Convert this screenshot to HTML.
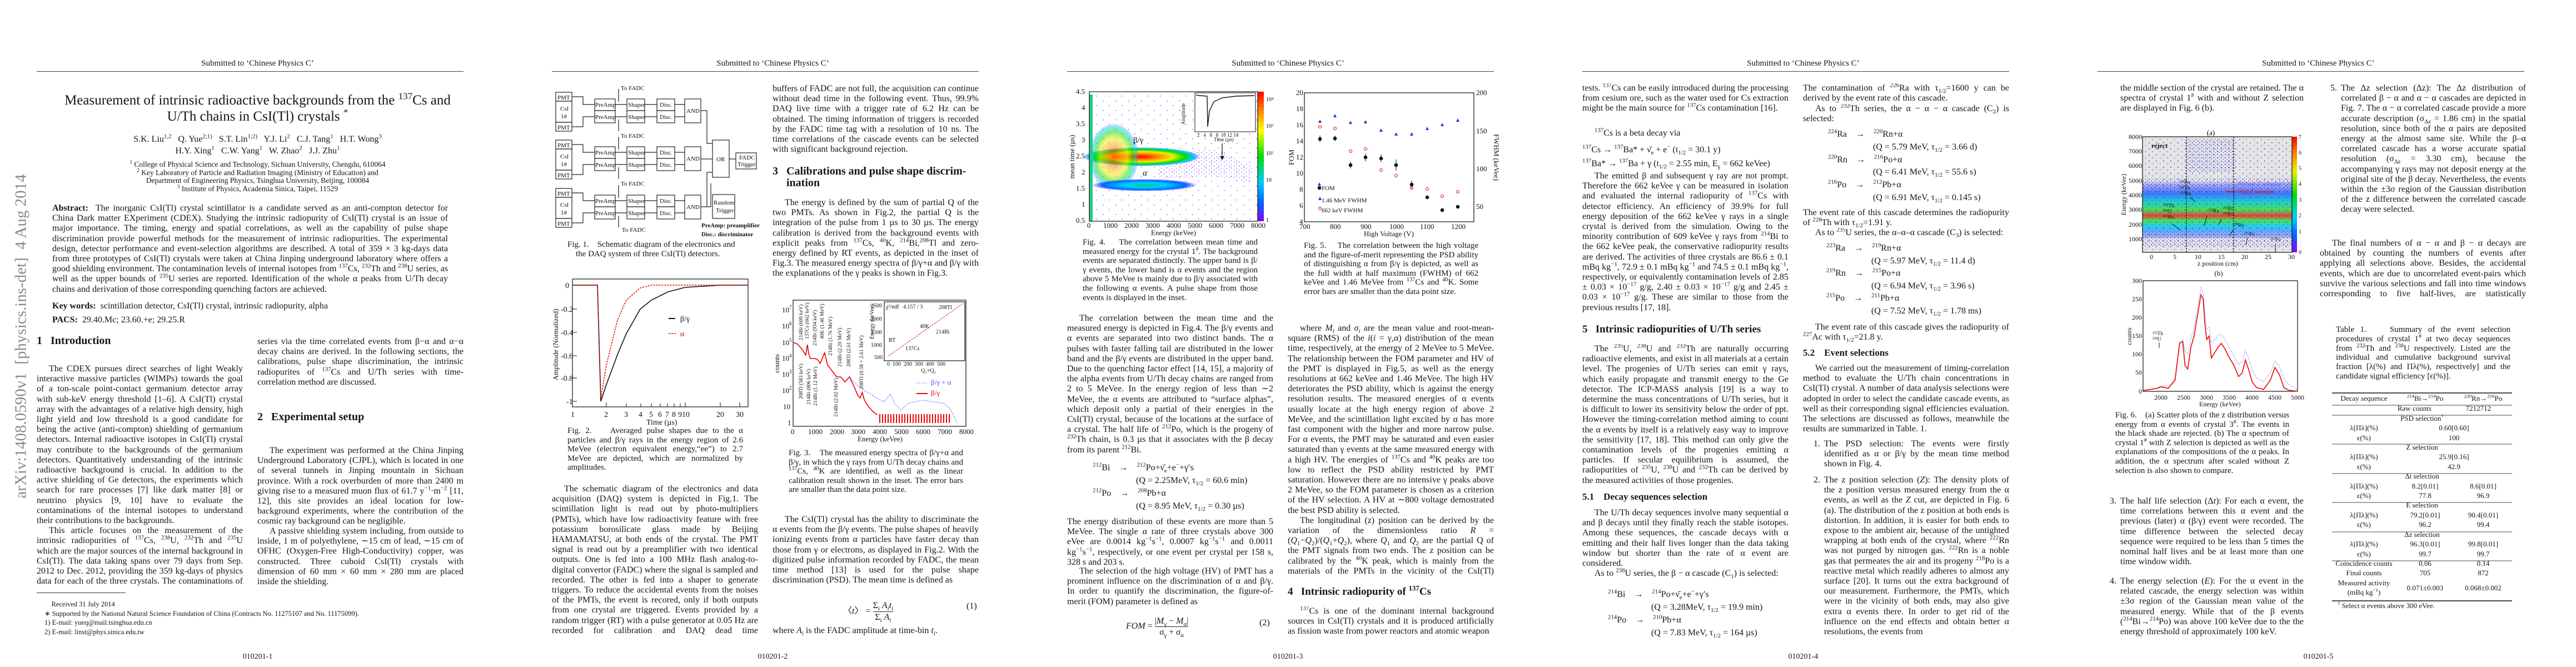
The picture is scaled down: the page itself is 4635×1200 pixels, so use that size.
<!DOCTYPE html>
<html><head><meta charset="utf-8">
<style>
*{margin:0;padding:0;box-sizing:border-box}
body{width:4635px;height:1200px;background:#fff;position:relative;overflow:hidden;font-family:"Liberation Serif",serif;color:#151515}
.pg{position:absolute;top:0;width:927px;height:1200px;overflow:hidden}
.t{position:absolute;font-size:16px;line-height:18.2px;text-align:justify;overflow:hidden}
.L{left:66px;width:371px}
.R{left:463px;width:371px}
.i{text-indent:22px}
sup,sub{font-size:0.68em;line-height:0}
.hd{position:absolute;left:0;width:927px;top:106px;text-align:center;font-size:15px}
.rule{position:absolute;left:66px;width:768px;top:128px;height:1px;background:#444}
.pn{position:absolute;left:0;width:927px;top:1174px;text-align:center;font-size:14px}
.h{position:absolute;font-weight:bold;font-size:20px;line-height:21px}
.h2{position:absolute;font-weight:bold;font-size:17px}
.cap{position:absolute;font-size:15px;line-height:16.6px;text-align:justify;overflow:hidden}
.c{position:absolute;font-size:16px;white-space:nowrap}
svg{position:absolute;left:0;top:0}
svg text{font-family:"Liberation Serif",serif}
</style></head><body>

<!-- PAGE 1 -->
<div class="pg" style="left:0">
<div class="hd">Submitted to ‘Chinese Physics C’</div><div class="rule"></div>
<div style="position:absolute;left:18px;top:300px;width:40px;height:610px;">
<div style="position:absolute;left:20px;top:305px;transform:translate(-50%,-50%) rotate(-90deg);white-space:nowrap;font-size:29px;color:#8a8a8a;font-family:'Liberation Serif',serif">arXiv:1408.0590v1&nbsp; [physics.ins-det]&nbsp; 4 Aug 2014</div></div>
<div style="position:absolute;left:40px;width:847px;top:166px;text-align:center;font-size:25px;line-height:29px">Measurement of intrinsic radioactive backgrounds from the <sup>137</sup>Cs and<br>U/Th chains in CsI(Tl) crystals <sup>*</sup></div>
<div style="position:absolute;left:0;width:927px;top:240px;text-align:center;font-size:16px;line-height:21px">S.K. Liu<sup>1,2</sup>&nbsp;&nbsp; Q. Yue<sup>2;1)</sup>&nbsp;&nbsp; S.T. Lin<sup>1;2)</sup>&nbsp;&nbsp; Y.J. Li<sup>2</sup>&nbsp;&nbsp; C.J. Tang<sup>1</sup>&nbsp;&nbsp; H.T. Wong<sup>3</sup><br>H.Y. Xing<sup>1</sup>&nbsp;&nbsp; C.W. Yang<sup>1</sup>&nbsp;&nbsp; W. Zhao<sup>2</sup>&nbsp;&nbsp; J.J. Zhu<sup>1</sup></div>
<div style="position:absolute;left:0;width:927px;top:289px;text-align:center;font-size:13.5px;line-height:14.5px"><sup>1</sup> College of Physical Science and Technology, Sichuan University, Chengdu, 610064<br><sup>2</sup> Key Laboratory of Particle and Radiation Imaging (Ministry of Education) and<br>Department of Engineering Physics, Tsinghua University, Beijing, 100084<br><sup>3</sup> Institute of Physics, Academia Sinica, Taipei, 11529</div>
<div class="t" style="left:94px;width:712px;top:366px;height:166px"><b>Abstract:</b>&nbsp; The inorganic CsI(Tl) crystal scintillator is a candidate served as an anti-compton detector for China Dark matter EXperiment (CDEX). Studying the intrinsic radiopurity of CsI(Tl) crystal is an issue of major importance. The timing, energy and spatial correlations, as well as the capability of pulse shape discrimination provide powerful methods for the measurement of intrinsic radiopurities. The experimental design, detector performance and event-selection algorithms are described. A total of 359 × 3 kg-days data from three prototypes of CsI(Tl) crystals were taken at China Jinping underground laboratory where offers a good shielding environment. The contamination levels of internal isotopes from <sup>137</sup>Cs, <sup>232</sup>Th and <sup>238</sup>U series, as well as the upper bounds of <sup>235</sup>U series are reported. Identification of the whole α peaks from U/Th decay chains and derivation of those corresponding quenching factors are achieved.</div>
<div class="c" style="left:94px;top:542px"><b>Key words:</b>&nbsp; scintillation detector, CsI(Tl) crystal, intrinsic radiopurity, alpha</div>
<div class="c" style="left:94px;top:567px"><b>PACS:</b>&nbsp; 29.40.Mc; 23.60.+e; 29.25.R</div>
<div class="h" style="left:66px;top:603px">1&nbsp;&nbsp; Introduction</div>
<div class="t L i" style="top:655px;height:402px">The CDEX pursues direct searches of light Weakly interactive massive particles (WIMPs) towards the goal of a ton-scale point-contact germanium detector array with sub-keV energy threshold [1–6]. A CsI(Tl) crystal array with the advantages of a relative high density, high light yield and low threshold is a good candidate for being the active (anti-compton) shielding of germanium detectors. Internal radioactive isotopes in CsI(Tl) crystal may contribute to the backgrounds of the germanium detectors. Quantitatively understanding of the intrinsic radioactive background is crucial. In addition to the active shielding of Ge detectors, the experiments which search for rare processes [7] like dark matter [8] or neutrino physics [9, 10] have to evaluate the contaminations of the internal isotopes to understand their contributions to the backgrounds.<br><span style="padding-left:22px"></span>This article focuses on the measurement of the intrinsic radiopurities of <sup>137</sup>Cs, <sup>238</sup>U, <sup>232</sup>Th and <sup>235</sup>U which are the major sources of the internal background in CsI(Tl). The data taking spans over 79 days from Sep. 2012 to Dec. 2012, providing the 359 kg-days of physics data for each of the three crystals. The contaminations of U/Th</div>
<div class="t R" style="top:606px;height:92px">series via the time correlated events from β−α and α−α decay chains are derived. In the following sections, the calibrations, pulse shape discrimination, the intrinsic radiopurites of <sup>137</sup>Cs and U/Th series with time-correlation method are discussed.</div>
<div class="h" style="left:463px;top:740px">2&nbsp;&nbsp; Experimental setup</div>
<div class="t R i" style="top:802px;height:146px">The experiment was performed at the China Jinping Underground Laboratory (CJPL), which is located in one of several tunnels in Jinping mountain in Sichuan province. With a rock overburden of more than 2400 m giving rise to a measured muon flux of 61.7 y<sup>−1</sup>·m<sup>−2</sup> [11, 12], this site provides an ideal location for low-background experiments, where the contribution of the cosmic ray background can be negligible.</div>
<div class="t R i" style="top:947px;height:110px">A passive shielding system including, from outside to inside, 1 m of polyethylene, ∼15 cm of lead, ∼15 cm of OFHC (Oxygen-Free High-Conductivity) copper, was constructed. Three cuboid CsI(Tl) crystals with dimension of 60 mm × 60 mm × 280 mm are placed inside the shielding.</div>
<div style="position:absolute;left:66px;top:1066px;width:160px;height:1px;background:#333"></div>
<div style="position:absolute;left:80px;top:1079px;font-size:12.5px;line-height:16.5px">&nbsp;&nbsp;&nbsp;&nbsp;Received 31 July 2014<br>∗ Supported by the National Natural Science Foundation of China (Contracts No. 11275107 and No. 11175099).<br>1) E-mail: yueq@mail.tsinghua.edu.cn<br>2) E-mail: linst@phys.sinica.edu.tw</div>
<div class="pn">010201-1</div>
</div>

<!-- PAGE 2 -->
<div class="pg" style="left:927px">
<div class="hd">Submitted to ‘Chinese Physics C’</div><div class="rule"></div>
<svg width="927" height="1200" viewBox="0 0 927 1200">
<g fill="none" stroke="#222" stroke-width="1.2" font-size="11">
<g id="grp">
<rect x="73" y="166" width="29" height="16"/><rect x="73" y="182" width="29" height="38"/><rect x="73" y="220" width="29" height="16"/>
<rect x="143" y="178" width="37" height="21"/><rect x="143" y="199" width="37" height="22"/>
<rect x="201" y="178" width="32" height="21"/><rect x="201" y="199" width="32" height="22"/>
<rect x="255" y="178" width="32" height="21"/><rect x="255" y="199" width="32" height="22"/>
<rect x="305" y="178" width="29" height="43"/>
<path d="M102 174 H122 V188 H143 M102 228 H122 V210 H143 M180 188 H201 M180 210 H201 M233 188 H255 M233 210 H255 M287 188 H305 M287 210 H305 M186 183 V160 M186 215 V236"/>
<g fill="#111" stroke="none"><text x="76" y="179">PMT</text><text x="81" y="199">CsI</text><text x="82" y="213">1#</text><text x="76" y="233">PMT</text><text x="144" y="192">PreAmp</text><text x="144" y="214">PreAmp</text><text x="203" y="192">Shaper</text><text x="203" y="214">Shaper</text><text x="260" y="192">Disc.</text><text x="260" y="214">Disc.</text><text x="308" y="203">AND</text></g>
</g>
<use href="#grp" transform="translate(0,86)"/><use href="#grp" transform="translate(0,173)"/>
<rect x="355" y="252" width="30" height="67"/><rect x="397" y="275" width="37" height="29"/><rect x="355" y="350" width="40" height="43"/>
<path d="M334 199 H345 V258 H355 M334 286 H355 M334 372 H345 V310 H355 M339 372 H352 V330 M385 286 H397"/>
<g fill="#111" stroke="none"><text x="362" y="290">OR</text><text x="403" y="287">FADC</text><text x="400" y="299">Trigger</text><text x="357" y="368">Random</text><text x="361" y="382">Trigger</text>
<text x="190" y="162">To FADC</text><text x="190" y="248">To FADC</text><text x="190" y="334">To FADC</text><text x="192" y="417">To FADC</text>
<text x="335" y="409" font-weight="bold">PreAmp: preamplifier</text><text x="335" y="425" font-weight="bold">Disc.: discriminator</text></g>
</g>
<!-- fig2 -->
<rect x="103" y="502" width="316" height="230" fill="none" stroke="#111" stroke-width="1.2"/>
<g stroke="#111" stroke-width="1"><path d="M103 513h8M103 556h8M103 598h8M103 640h8M103 680h8M103 722h8M164 732v-8M200 732v-6M226 732v-6M245 732v-6M261 732v-6M274 732v-6M286 732v-6M297 732v-6M306 732v-8M369 732v-8M404 732v-8"/></g>
<g font-size="14" fill="#111"><text x="90" y="518">0</text><text x="82" y="561">-0.2</text><text x="82" y="603">-0.4</text><text x="82" y="645">-0.6</text><text x="82" y="685">-0.8</text><text x="92" y="727">-1</text>
<text x="100" y="750">1</text><text x="160" y="750">2</text><text x="196" y="750">3</text><text x="222" y="750">4</text><text x="241" y="750">5</text><text x="257" y="750">6</text><text x="270" y="750">7</text><text x="282" y="750">8</text><text x="293" y="750">910</text><text x="362" y="750">20</text><text x="397" y="750">30</text>
<text x="236" y="764">Time (µs)</text>
<text transform="translate(77,620) rotate(-90)" text-anchor="middle" font-size="13">Amplitude (Normalized)</text>
<text x="297" y="578">β/γ</text><text x="297" y="605" fill="#d00">α</text></g>
<path d="M276 573h12" stroke="#111" stroke-width="2"/><path d="M276 600h14" stroke="#d00" stroke-width="1.5" stroke-dasharray="3,2"/>
<polyline fill="none" stroke="#111" stroke-width="1.6" points="103,513 148,513 154,722 164,692 184,638 200,600 225,556 245,540 275,525 306,517 369,513 419,513"/>
<polyline fill="none" stroke="#d00" stroke-width="1.5" stroke-dasharray="3,2" points="103,513 148,513 154,717 164,657 184,576 200,540 225,518 245,513 419,513"/>
<!-- fig3 -->
<rect x="500" y="540" width="311" height="227" fill="none" stroke="#111" stroke-width="1.2"/>
<g font-size="13" fill="#111"><text x="480" y="562">10<tspan font-size="9" dy="-6">7</tspan></text><text x="480" y="591">10<tspan font-size="9" dy="-6">6</tspan></text><text x="480" y="621">10<tspan font-size="9" dy="-6">5</tspan></text><text x="480" y="649">10<tspan font-size="9" dy="-6">4</tspan></text><text x="480" y="678">10<tspan font-size="9" dy="-6">3</tspan></text><text x="480" y="707">10<tspan font-size="9" dy="-6">2</tspan></text><text x="482" y="736">10</text><text x="490" y="765">1</text>
<text x="496" y="781">0</text><text x="527" y="781">1000</text><text x="566" y="781">2000</text><text x="604" y="781">3000</text><text x="643" y="781">4000</text><text x="682" y="781">5000</text><text x="721" y="781">6000</text><text x="760" y="781">7000</text><text x="799" y="781">8000</text>
<text x="616" y="794">Energy (keVee)</text>
<text transform="translate(475,654) rotate(-90)" text-anchor="middle">counts</text></g>
<g font-size="9.5" fill="#111">
<text transform="translate(517,612) rotate(-90)">214Bi (609 keV)</text><text transform="translate(528,610) rotate(-90)">137Cs (662 keV)</text><text transform="translate(542,622) rotate(-90)">214Bi (934 keV)</text><text transform="translate(555,610) rotate(-90)">40K (1.46 MeV)</text><text transform="translate(570,640) rotate(-90)">214Bi (1.76 MeV)</text><text transform="translate(587,660) rotate(-90)">214Bi (2.20 MeV)</text><text transform="translate(603,660) rotate(-90)">208Tl (2.61 MeV)</text><text transform="translate(626,700) rotate(-90)">208Tl (0.58 + 2.61 MeV)</text>
<text transform="translate(517,718) rotate(-90)">208Tl (583 keV)</text><text transform="translate(531,728) rotate(-90)">214Bi (806 keV)</text><text transform="translate(543,730) rotate(-90)">214Bi (1.12 MeV)</text><text transform="translate(580,750) rotate(-90)">214Bi (2.02 MeV)</text></g>
<rect x="664" y="543" width="145" height="106" fill="#fff" stroke="#111" stroke-width="1.2"/>
<path d="M672 640 L806 546" stroke="#d00" stroke-dasharray="3,2" fill="none"/>
<g font-size="10" fill="#111"><text x="667" y="555">χ²/ndf&nbsp;&nbsp; 4.157 / 3</text><text x="672" y="615">RT</text><text x="702" y="630">137Cs</text><text x="728" y="590">40K</text><text x="757" y="600">214Bi</text><text x="762" y="556">208Tl</text><text x="669" y="658">0&nbsp; 100&nbsp; 200&nbsp; 300&nbsp; 400&nbsp; 500</text><text x="730" y="670">Q₁+Q₂</text><text x="640" y="553">2500</text><text x="640" y="577">2000</text><text x="640" y="601">1500</text><text x="640" y="624">1000</text><text x="646" y="646">500</text><text transform="translate(645,610) rotate(-90)">Energy (keVee)</text></g>
<polyline fill="none" stroke="#44f" stroke-width="1" stroke-dasharray="2,2" points="601.5,678 609,687 616.7,694 628.4,703 640,709 651.7,717 663.4,723 675,709 682.8,726 694.5,738 706,726 718,723 733.4,720 752.9,723 772.3,726 784,738 795.6,761"/>
<polyline fill="none" stroke="#e00" stroke-width="1.6" points="500.8,616 507.8,619 515.6,627.6 522.7,639 525.8,620 528,636 531,645 539,645 543.6,646.5 548.6,653.7 556.8,634.8 562,656.6 568.5,665 574,672.5 578.6,678 585.6,678 593.4,687 601.5,678 609,694 616.7,711.7 620.6,716 624.5,706 628.4,720 636,732 644,740.7 651.7,746.5"/>
<defs><pattern id="rb" width="5" height="16" patternUnits="userSpaceOnUse"><rect width="2" height="16" fill="#e00"/></pattern></defs>
<rect x="652" y="745" width="132" height="16" fill="url(#rb)"/>
<g font-size="13"><text x="748" y="692" fill="#55f">β/γ + α</text><text x="748" y="711" fill="#e00">β/γ</text></g>
<path d="M722 689h20" stroke="#66f" stroke-dasharray="2,2"/><path d="M722 708h20" stroke="#e00" stroke-width="2"/>
</svg>
<div class="cap" style="left:94px;width:316px;top:432px">Fig. 1.&nbsp;&nbsp;&nbsp; Schematic diagram of the electronics and <br>&nbsp;&nbsp;&nbsp;&nbsp;the DAQ system of three CsI(Tl) detectors.</div>
<div class="cap" style="left:94px;width:316px;top:767px">Fig. 2.&nbsp;&nbsp;&nbsp; Averaged pulse shapes due to the α particles and β/γ rays in the energy region of 2.6 MeVee (electron equivalent energy,“ee”) to 2.7 MeVee are depicted, which are normalized by amplitudes.</div>
<div class="cap" style="left:492px;width:314px;top:807px">Fig. 3.&nbsp;&nbsp;&nbsp; The measured energy spectra of β/γ+α and β/γ, in which the γ rays from U/Th decay chains and <sup>137</sup>Cs, <sup>40</sup>K are identified, as well as the linear calibration result shown in the inset. The error bars are smaller than the data point size.</div>
<div class="t R" style="top:151px;height:128px">buffers of FADC are not full, the acquisition can continue without dead time in the following event. Thus, 99.9% DAQ live time with a trigger rate of 6.2 Hz can be obtained. The timing information of triggers is recorded by the FADC time tag with a resolution of 10 ns. The time correlations of the cascade events can be selected with significant background rejection.</div>
<div class="h" style="left:463px;top:298px">3&nbsp;&nbsp; Calibrations and pulse shape discrim-<br>&nbsp;&nbsp;&nbsp;&nbsp;&nbsp;ination</div>
<div class="t R i" style="top:356px;height:146px">The energy is defined by the sum of partial Q of the two PMTs. As shown in Fig.2, the partial Q is the integration of the pulse from 1 µs to 30 µs. The energy calibration is derived from the background events with explicit peaks from <sup>137</sup>Cs, <sup>40</sup>K, <sup>214</sup>Bi,<sup>208</sup>Tl and zero-energy defined by RT events, as depicted in the inset of Fig.3. The measured energy spectra of β/γ+α and β/γ with the explanations of the γ peaks is shown in Fig.3.</div>
<div class="t L i" style="top:871px;height:274px">The schematic diagram of the electronics and data acquisition (DAQ) system is depicted in Fig.1. The scintillation light is read out by photo-multipliers (PMTs), which have low radioactivity feature with free potassium borosilicate glass made by Beijing HAMAMATSU, at both ends of the crystal. The PMT signal is read out by a preamplifier with two identical outputs. One is fed into a 100 MHz flash analog-to-digital convertor (FADC) where the signal is sampled and recorded. The other is fed into a shaper to generate triggers. To reduce the accidental events from the noises of the PMTs, the event is recored, only if both outputs from one crystal are triggered. Events provided by a random trigger (RT) with a pulse generator at 0.05 Hz are recorded for calibration and DAQ dead time measurement. As long as the</div>
<div class="t R i" style="top:926px;height:128px">The CsI(Tl) crystal has the ability to discriminate the α events from the β/γ events. The pulse shapes of heavily ionizing events from α particles have faster decay than those from γ or electrons, as displayed in Fig.2. With the digitized pulse information recorded by FADC, the mean time method [13] is used for the pulse shape discrimination (PSD). The mean time is defined as</div>
<div class="c" style="left:590px;top:1080px">〈<i>t</i>〉 = <span style="display:inline-block;vertical-align:middle;text-align:center;line-height:20px"><span style="border-bottom:1px solid #222;display:block">Σ<sub>i</sub> <i>A<sub>i</sub>t<sub>i</sub></i></span>Σ<sub>i</sub> <i>A<sub>i</sub></i></span></div>
<div class="c" style="left:812px;top:1082px">(1)</div>
<div class="c" style="left:463px;top:1126px">where <i>A<sub>i</sub></i> is the FADC amplitude at time-bin <i>t<sub>i</sub></i>.</div>
<div class="pn">010201-2</div>
</div>

<!-- PAGE 3 -->
<div class="pg" style="left:1854px">
<div class="hd">Submitted to ‘Chinese Physics C’</div><div class="rule"></div>
<svg width="927" height="1200" viewBox="0 0 927 1200">
<defs>
<linearGradient id="cb" x1="0" y1="0" x2="0" y2="1"><stop offset="0" stop-color="#f00"/><stop offset=".15" stop-color="#f80"/><stop offset=".3" stop-color="#ff0"/><stop offset=".5" stop-color="#0d0"/><stop offset=".7" stop-color="#0cf"/><stop offset=".85" stop-color="#06f"/><stop offset="1" stop-color="#80f"/></linearGradient>
<radialGradient id="bg1"><stop offset="0" stop-color="#f00"/><stop offset=".3" stop-color="#f80"/><stop offset=".55" stop-color="#ee0"/><stop offset=".75" stop-color="#0d0"/><stop offset=".9" stop-color="#0cf"/><stop offset="1" stop-color="#33f" stop-opacity="0"/></radialGradient>
<radialGradient id="bg2"><stop offset="0" stop-color="#0c8"/><stop offset=".4" stop-color="#0cf"/><stop offset=".8" stop-color="#06f"/><stop offset="1" stop-color="#33f" stop-opacity="0"/></radialGradient>
<pattern id="dots" width="9" height="7" patternUnits="userSpaceOnUse"><rect x="1" y="1" width="1.5" height="1.5" fill="#55f"/><rect x="6" y="4" width="1.5" height="1.5" fill="#a3f"/></pattern>
<pattern id="dots2" width="23" height="17" patternUnits="userSpaceOnUse"><rect x="3" y="2" width="1.5" height="1.5" fill="#a4f"/><rect x="15" y="11" width="1.5" height="1.5" fill="#66f"/></pattern>
</defs>
<!-- fig4 -->
<rect x="106" y="165" width="303" height="233" fill="#fff"/>
<rect x="106" y="165" width="303" height="233" fill="url(#dots2)"/>
<path d="M230 300 Q300 250 360 280 L400 300 L395 330 Q320 310 290 320 L230 320 Z" fill="url(#dots)" opacity=".8"/>
<ellipse cx="200" cy="282" rx="105" ry="17" fill="url(#bg1)"/>
<ellipse cx="150" cy="282" rx="45" ry="60" fill="url(#bg1)" opacity=".5"/>
<ellipse cx="205" cy="333" rx="95" ry="11" fill="url(#bg2)"/>
<rect x="106" y="170" width="6" height="228" fill="#2c8"/>
<rect x="409" y="165" width="11" height="233" fill="url(#cb)"/>
<rect x="106" y="165" width="303" height="233" fill="none" stroke="#111" stroke-width="1.2"/>
<g font-size="13" fill="#111"><text x="82" y="169">4.5</text><text x="92" y="198">4</text><text x="82" y="227">3.5</text><text x="92" y="256">3</text><text x="82" y="285">2.5</text><text x="92" y="314">2</text><text x="82" y="343">1.5</text><text x="92" y="372">1</text><text x="82" y="401">0.5</text>
<text x="102" y="410">0</text><text x="131" y="410">1000</text><text x="169" y="410">2000</text><text x="207" y="410">3000</text><text x="245" y="410">4000</text><text x="283" y="410">5000</text><text x="321" y="410">6000</text><text x="359" y="410">7000</text><text x="397" y="410">8000</text>
<text x="217" y="423">Energy (keVee)</text><text transform="translate(79,282) rotate(-90)" text-anchor="middle">mean time (µs)</text>
<text x="185" y="257" font-size="15">β/γ</text><text x="202" y="316" font-size="15">α</text>
<text x="424" y="182" font-size="10">10⁴</text><text x="424" y="230" font-size="10">10³</text><text x="424" y="279" font-size="10">10²</text><text x="424" y="327" font-size="10">10</text><text x="424" y="399" font-size="10">1</text></g>
<rect x="296" y="167" width="109" height="70" fill="#fff" stroke="#111"/>
<polyline fill="none" stroke="#111" stroke-width="1.4" points="298,171 305,172 318,173 319,228 322,200 330,183 345,176 370,173 403,172"/>
<g font-size="9" fill="#111"><text x="300" y="246">2&nbsp;&nbsp; 4&nbsp;&nbsp; 6&nbsp;&nbsp; 8&nbsp; 10 12 14</text><text x="330" y="254">Time (µs)</text><text transform="translate(278,205) rotate(-90)" text-anchor="middle">Amplitude</text></g>
<path d="M345 258 V285" stroke="#111" stroke-width="1.2"/><path d="M341 281 L345 288 L349 281Z" fill="#111"/>
<!-- fig5 -->
<rect x="493" y="167" width="305" height="232" fill="none" stroke="#111" stroke-width="1.2"/>
<g font-size="13" fill="#111"><text x="478" y="171">20</text><text x="478" y="200">18</text><text x="478" y="229">16</text><text x="478" y="258">14</text><text x="478" y="287">12</text><text x="478" y="316">10</text><text x="484" y="345">8</text><text x="484" y="374">6</text><text x="484" y="403">4</text>
<text x="484" y="412">700</text><text x="539" y="412">800</text><text x="594" y="412">900</text><text x="646" y="412">1000</text><text x="701" y="412">1100</text><text x="757" y="412">1200</text>
<text x="600" y="425">High Voltage (V)</text><text transform="translate(474,283) rotate(-90)" text-anchor="middle">FOM</text>
<text x="802" y="171">200</text><text x="802" y="240">150</text><text x="802" y="308">100</text><text x="802" y="376">50</text>
<text transform="translate(834,283) rotate(90)" text-anchor="middle">FWHM (keVee)</text>
<text x="524" y="342" font-size="11">FOM</text><text x="524" y="364" font-size="11">1.46 MeV FWHM</text><text x="524" y="382" font-size="11">662 keV FWHM</text></g>
<g fill="#33c"><path d="M520 328l-3 6h6z"/><path d="M521 354l-3 6h6z"/>
<path d="M521 215l-3 6h6zM548 205l-3 6h6zM576 217l-3 6h6zM603 216l-3 6h6zM631 231l-3 6h6zM658 238l-3 6h6zM686 238l-3 6h6zM714 228l-3 6h6zM741 221l-3 6h6zM769 213l-3 6h6z"/></g>
<g fill="none" stroke="#d00" stroke-width="1"><circle cx="521" cy="228" r="2.5"/><circle cx="548" cy="231" r="2.5"/><circle cx="576" cy="272" r="2.5"/><circle cx="603" cy="268" r="2.5"/><circle cx="631" cy="306" r="2.5"/><circle cx="658" cy="316" r="2.5"/><circle cx="686" cy="338" r="2.5"/><circle cx="714" cy="340" r="2.5"/><circle cx="741" cy="353" r="2.5"/><circle cx="769" cy="345" r="2.5"/><circle cx="521" cy="375" r="2.5"/></g>
<g fill="#111" stroke="#111"><circle cx="521" cy="250" r="2.8"/><circle cx="548" cy="249" r="2.8"/><circle cx="576" cy="297" r="2.8"/><circle cx="603" cy="283" r="2.8"/><circle cx="631" cy="285" r="2.8"/><circle cx="658" cy="297" r="2.8"/><circle cx="686" cy="332" r="2.8"/><circle cx="714" cy="355" r="2.8"/><circle cx="741" cy="378" r="2.8"/><circle cx="769" cy="372" r="2.8"/><circle cx="520" cy="338" r="2.8"/>
<path d="M521 244v12M548 244v10M576 291v12M603 276v14M631 278v14M658 287v20M686 325v14" fill="none"/></g>
</svg>
<div class="cap" style="left:94px;width:315px;top:428px">Fig. 4.&nbsp;&nbsp;&nbsp; The correlation between mean time and measured energy for the crystal 1<sup>#</sup>. The background events are separated distinctly. The upper band is β/γ events, the lower band is α events and the region above 5 MeVee is mainly due to β/γ associated with the following α events. A pulse shape from those events is displayed in the inset.</div>
<div class="cap" style="left:492px;width:314px;top:434px">Fig. 5.&nbsp;&nbsp;&nbsp; The correlation between the high voltage and the figure-of-merit representing the PSD ability of distinguishing α from β/γ is depicted, as well as the full width at half maximum (FWHM) of 662 keVee and 1.46 MeVee from <sup>137</sup>Cs and <sup>40</sup>K. Some error bars are smaller than the data point size.</div>
<div class="t L i" style="top:564px;height:256px">The correlation between the mean time and the measured energy is depicted in Fig.4. The β/γ events and α events are separated into two distinct bands. The α pulses with faster falling tail are distributed in the lower band and the β/γ events are distributed in the upper band. Due to the quenching factor effect [14, 15], a majority of the alpha events from U/Th decay chains are ranged from 2 to 5 MeVee. In the energy region of less than ∼2 MeVee, the α events are attributed to “surface alphas”, which deposit only a partial of their energies in the CsI(Tl) crystal, because of the locations at the surface of a crystal. The half life of <sup>212</sup>Po, which is the progeny of <sup>232</sup>Th chain, is 0.3 µs that it associates with the β decay from its parent <sup>212</sup>Bi.</div>
<div class="c" style="left:112px;top:830px;line-height:23px"><sup>212</sup>Bi&nbsp;&nbsp;&nbsp; →&nbsp;&nbsp;&nbsp; <sup>212</sup>Po+ν̄<sub>e</sub>+e<sup>−</sup>+γ′s<br><span style="padding-left:78px">(Q = 2.25MeV, τ<sub>1/2</sub> = 60.6 min)</span><br><sup>212</sup>Po&nbsp;&nbsp;&nbsp; →&nbsp;&nbsp;&nbsp; <sup>208</sup>Pb+α<br><span style="padding-left:78px">(Q = 8.95 MeV, τ<sub>1/2</sub> = 0.30 µs)</span></div>
<div class="t L" style="top:930px;height:92px">The energy distribution of these events are more than 5 MeVee. The single α rate of three crystals above 300 eVee are 0.0014 kg<sup>−1</sup>s<sup>−1</sup>, 0.0007 kg<sup>−1</sup>s<sup>−1</sup> and 0.0011 kg<sup>−1</sup>s<sup>−1</sup>, respectively, or one event per crystal per 158 s, 328 s and 203 s.</div>
<div class="t L i" style="top:1019px;height:74px">The selection of the high voltage (HV) of PMT has a prominent influence on the discrimination of α and β/γ. In order to quantify the discrimination, the figure-of-merit (FOM) parameter is defined as</div>
<div class="c" style="left:172px;top:1108px"><i>FOM</i> = <span style="display:inline-block;vertical-align:middle;text-align:center;line-height:19px"><span style="border-bottom:1px solid #222;display:block">|<i>M</i><sub>γ</sub> − <i>M</i><sub>α</sub>|</span><i>σ</i><sub>γ</sub> + <i>σ</i><sub>α</sub></span></div>
<div class="c" style="left:412px;top:1112px">(2)</div>
<div class="t R i" style="top:582px;height:456px">where <i>M<sub>i</sub></i> and <i>σ<sub>i</sub></i> are the mean value and root-mean-square (RMS) of the <i>i</i>(<i>i</i> = γ,α) distribution of the mean time, respectively, at the energy of 2 MeVee to 5 MeVee. The relationship between the FOM parameter and HV of the PMT is displayed in Fig.5, as well as the energy resolutions at 662 keVee and 1.46 MeVee. The high HV deteriorates the PSD ability, which is against the energy resolution results. The measured energies of α events usually locate at the high energy region of above 2 MeVee, and the scintillation light excited by α has more fast component with the higher and more narrow pulse. For α events, the PMT may be saturated and even easier saturated than γ events at the same measured energy with a high HV. The energies of <sup>137</sup>Cs and <sup>40</sup>K peaks are too low to reflect the PSD ability restricted by PMT saturation. However there are no intensive γ peaks above 2 MeVee, so the FOM parameter is chosen as a criterion of the HV selection. A HV at ∼800 voltage demostrated the best PSD ability is selected.<br><span style="padding-left:22px"></span>The longitudinal (z) position can be derived by the variation of the dimensionless ratio <i>R</i> = (<i>Q</i><sub>1</sub>−<i>Q</i><sub>2</sub>)/(<i>Q</i><sub>1</sub>+<i>Q</i><sub>2</sub>), where <i>Q</i><sub>1</sub> and <i>Q</i><sub>2</sub> are the partial Q of the PMT signals from two ends. The z position can be calibrated by the <sup>40</sup>K peak, which is mainly from the materials of the PMTs in the vicinity of the CsI(Tl) crystal.</div>
<div class="h" style="left:463px;top:1054px;font-size:19px">4&nbsp;&nbsp; Intrinsic radiopurity of <sup>137</sup>Cs</div>
<div class="t R i" style="top:1091px;height:56px"><sup>137</sup>Cs is one of the dominant internal background sources in CsI(Tl) crystals and it is produced artificially as fission waste from power reactors and atomic weapon</div>
<div class="pn">010201-3</div>
</div>

<!-- PAGE 4 -->
<div class="pg" style="left:2781px">
<div class="hd">Submitted to ‘Chinese Physics C’</div><div class="rule"></div>
<div class="t L" style="top:150px;height:74px">tests. <sup>137</sup>Cs can be easily introduced during the processing from cesium ore, such as the water used for Cs extraction might be the main source for <sup>137</sup>Cs contamination [16].</div>
<div class="c" style="left:88px;top:231px"><sup>137</sup>Cs is a beta decay via</div>
<div class="c" style="left:66px;top:257px;line-height:25px"><sup>137</sup>Cs → <sup>137</sup>Ba* + ν̄<sub>e</sub> + e<sup>−</sup> (t<sub>1/2</sub> = 30.1 y)<br><sup>137</sup>Ba* → <sup>137</sup>Ba + γ (t<sub>1/2</sub> = 2.55 min, E<sub>γ</sub> = 662 keVee)</div>
<div class="t L i" style="top:308px;height:256px">The emitted β and subsequent γ ray are not prompt. Therefore the 662 keVee γ can be measured in isolation and evaluated the internal radiopurity of <sup>137</sup>Cs with detector efficiency. An efficiency of 39.9% for full energy deposition of the 662 keVee γ rays in a single crystal is derived from the simulation. Owing to the minority contribution of 609 keVee γ rays from <sup>214</sup>Bi to the 662 keVee peak, the conservative radiopurity results are derived. The activities of three crystals are 86.6 ± 0.1 mBq kg<sup>−1</sup>, 72.9 ± 0.1 mBq kg<sup>−1</sup> and 74.5 ± 0.1 mBq kg<sup>−1</sup>, respectively, or equivalently contamination levels of 2.85 ± 0.03 × 10<sup>−17</sup> g/g, 2.40 ± 0.03 × 10<sup>−17</sup> g/g and 2.45 ± 0.03 × 10<sup>−17</sup> g/g. These are similar to those from the previous results [17, 18].</div>
<div class="h" style="left:66px;top:582px;font-size:19px">5&nbsp;&nbsp; Intrinsic radiopurities of U/Th series</div>
<div class="t L i" style="top:619px;height:256px">The <sup>235</sup>U, <sup>238</sup>U and <sup>232</sup>Th are naturally occurring radioactive elements, and exist in all materials at a certain level. The progenies of U/Th series can emit γ rays, which easily propagate and transmit energy to the Ge detector. The ICP-MASS analysis [19] is a way to determine the mass concentrations of U/Th series, but it is difficult to lower its sensitivity below the order of ppt. However the timing-correlation method aiming to count the α events by itself is a relatively easy way to improve the sensitivity [17, 18]. This method can only give the contamination levels of the progenies emitting α particles. If secular equilibrium is assumed, the radiopurities of <sup>235</sup>U, <sup>238</sup>U and <sup>232</sup>Th can be derived by the measured activities of those progenies.</div>
<div class="h2" style="left:66px;top:884px">5.1&nbsp;&nbsp;&nbsp; Decay sequences selection</div>
<div class="t L i" style="top:914px;height:128px">The U/Th decay sequences involve many sequential α and β decays until they finally reach the stable isotopes. Among these sequences, the cascade decays with α emitting and their half lives longer than the data taking window but shorter than the rate of α event are considered.<br><span style="padding-left:22px"></span>As to <sup>238</sup>U series, the β − α cascade (C<sub>1</sub>) is selected:</div>
<div class="c" style="left:112px;top:1058px;line-height:23px"><sup>214</sup>Bi&nbsp;&nbsp;&nbsp; →&nbsp;&nbsp;&nbsp; <sup>214</sup>Po+ν̄<sub>e</sub>+e<sup>−</sup>+γ′s<br><span style="padding-left:78px">(Q = 3.28MeV, τ<sub>1/2</sub> = 19.9 min)</span><br><sup>214</sup>Po&nbsp;&nbsp;&nbsp; →&nbsp;&nbsp;&nbsp; <sup>210</sup>Pb+α<br><span style="padding-left:78px">(Q = 7.83 MeV, τ<sub>1/2</sub> = 164 µs)</span></div>
<div class="t R" style="top:150px;height:38px">The contamination of <sup>226</sup>Ra with τ<sub>1/2</sub>=1600 y can be derived by the event rate of this cascade.</div>
<div class="t R i" style="top:187px;height:38px">As to <sup>232</sup>Th series, the α − α − α cascade (C<sub>2</sub>) is selected:</div>
<div class="c" style="left:508px;top:231px;line-height:22.8px"><sup>224</sup>Ra&nbsp;&nbsp;&nbsp; →&nbsp;&nbsp;&nbsp; <sup>220</sup>Rn+α<br><span style="padding-left:81px">(Q = 5.79 MeV, τ<sub>1/2</sub> = 3.66 d)</span><br><sup>220</sup>Rn&nbsp;&nbsp;&nbsp; →&nbsp;&nbsp;&nbsp; <sup>216</sup>Po+α<br><span style="padding-left:81px">(Q = 6.41 MeV, τ<sub>1/2</sub> = 55.6 s)</span><br><sup>216</sup>Po&nbsp;&nbsp;&nbsp; →&nbsp;&nbsp;&nbsp; <sup>212</sup>Pb+α<br><span style="padding-left:81px">(Q = 6.91 MeV, τ<sub>1/2</sub> = 0.145 s)</span></div>
<div class="t R" style="top:374px;height:38px">The event rate of this cascade determines the radiopurity of <sup>228</sup>Th with τ<sub>1/2</sub>=1.91 y.</div>
<div class="t R i" style="top:410px;height:20px">As to <sup>235</sup>U series, the α–α–α cascade (C<sub>3</sub>) is selected:</div>
<div class="c" style="left:505px;top:436px;line-height:22.6px"><sup>223</sup>Ra&nbsp;&nbsp;&nbsp; →&nbsp;&nbsp;&nbsp; <sup>219</sup>Rn+α<br><span style="padding-left:81px">(Q = 5.97 MeV, τ<sub>1/2</sub> = 11.4 d)</span><br><sup>219</sup>Rn&nbsp;&nbsp;&nbsp; →&nbsp;&nbsp;&nbsp; <sup>215</sup>Po+α<br><span style="padding-left:81px">(Q = 6.94 MeV, τ<sub>1/2</sub> = 3.96 s)</span><br><sup>215</sup>Po&nbsp;&nbsp;&nbsp; →&nbsp;&nbsp;&nbsp; <sup>211</sup>Pb+α<br><span style="padding-left:81px">(Q = 7.52 MeV, τ<sub>1/2</sub> = 1.78 ms)</span></div>
<div class="t R i" style="top:580px;height:38px">The event rate of this cascade gives the radiopurity of <sup>227</sup>Ac with τ<sub>1/2</sub>=21.8 y.</div>
<div class="h2" style="left:463px;top:625px">5.2&nbsp;&nbsp;&nbsp; Event selections</div>
<div class="t R i" style="top:654px;height:128px">We carried out the measurement of timing-correlation method to evaluate the U/Th chain concentrations in CsI(Tl) crystal. A number of data analysis selections were adopted in order to select the candidate cascade events, as well as their corresponding signal efficiencies evaluation. The selections are discussed as follows, meanwhile the results are summarized in Table. 1.</div>
<div class="c" style="left:482px;top:790px">1.</div>
<div class="t" style="left:501px;width:333px;top:790px;height:56px">The PSD selection: The events were firstly identified as α or β/γ by the mean time method shown in Fig. 4.</div>
<div class="c" style="left:482px;top:855px">2.</div>
<div class="t" style="left:501px;width:333px;top:855px;height:292px">The z position selection (<i>Z</i>): The density plots of the z position versus measured energy from the α events, as well as the <i>Z</i> cut, are depicted in Fig. 6 (a). The distribution of the z position at both ends is distortion. In addition, it is easier for both ends to expose to the ambient air, because of the untighted wrapping at both ends of the crystal, where <sup>222</sup>Rn was not purged by nitrogen gas. <sup>222</sup>Rn is a noble gas that permeates the air and its progeny <sup>218</sup>Po is a reactive metal which readily adheres to almost any surface [20]. It turns out the extra background of our measurement. Furthermore, the PMTs, which were in the vicinity of both ends, may also give extra α events there. In order to get rid of the influence on the end effects and obtain better α resolutions, the events from</div>
<div class="pn">010201-4</div>
</div>

<!-- PAGE 5 -->
<div class="pg" style="left:3708px">
<div class="hd">Submitted to ‘Chinese Physics C’</div><div class="rule"></div>
<svg width="927" height="1200" viewBox="0 0 927 1200">
<defs>
<linearGradient id="cb2" x1="0" y1="0" x2="0" y2="1"><stop offset="0" stop-color="#f00"/><stop offset=".15" stop-color="#f80"/><stop offset=".3" stop-color="#ee0"/><stop offset=".5" stop-color="#0d0"/><stop offset=".7" stop-color="#0cf"/><stop offset=".85" stop-color="#06f"/><stop offset="1" stop-color="#80f"/></linearGradient>
<linearGradient id="band" x1="0" y1="0" x2="0" y2="1"><stop offset="0" stop-color="#33f" stop-opacity=".2"/><stop offset=".2" stop-color="#26f"/><stop offset=".35" stop-color="#0cc"/><stop offset=".5" stop-color="#3d3"/><stop offset=".6" stop-color="#e22"/><stop offset=".68" stop-color="#3d3"/><stop offset=".8" stop-color="#0cf"/><stop offset="1" stop-color="#33f" stop-opacity=".3"/></linearGradient>
<pattern id="d3" width="7" height="6" patternUnits="userSpaceOnUse"><rect x="1" y="1" width="1.6" height="1.6" fill="#33d"/><rect x="4.5" y="3.8" width="1.3" height="1.3" fill="#55f"/></pattern>
<pattern id="d4" width="13" height="11" patternUnits="userSpaceOnUse"><rect x="2" y="3" width="1.6" height="1.6" fill="#33d"/><rect x="9" y="8" width="1.4" height="1.4" fill="#55f"/></pattern>
</defs>
<text x="270" y="243" font-size="13" text-anchor="middle">(a)</text>
<rect x="147" y="246" width="269" height="208" fill="#e4e4e4"/>
<rect x="147" y="246" width="269" height="208" fill="url(#d4)"/>
<rect x="226" y="250" width="85" height="60" fill="url(#d3)"/>
<rect x="147" y="320" width="269" height="125" fill="url(#d3)"/>
<rect x="147" y="328" width="269" height="100" fill="url(#band)" opacity=".85"/>
<rect x="147" y="328" width="269" height="100" fill="url(#d4)"/>
<path d="M226 246V454M311 246V454" stroke="#111" stroke-width="1.3" stroke-dasharray="3,2"/>
<rect x="416" y="246" width="9" height="208" fill="url(#cb2)"/>
<rect x="147" y="246" width="269" height="208" fill="none" stroke="#111" stroke-width="1.2"/>
<g font-size="12" fill="#111"><text x="163" y="266" font-weight="bold">reject</text>
<text x="122" y="250">8000</text><text x="122" y="276">7000</text><text x="122" y="302">6000</text><text x="122" y="329">5000</text><text x="122" y="355">4000</text><text x="122" y="381">3000</text><text x="122" y="408">2000</text><text x="122" y="434">1000</text>
<text x="160" y="466">0</text><text x="202" y="466">5</text><text x="241" y="466">10</text><text x="283" y="466">15</text><text x="325" y="466">20</text><text x="367" y="466">25</text><text x="409" y="466">30</text>
<text x="246" y="478">z position (cm)</text><text transform="translate(117,350) rotate(-90)" text-anchor="middle">Energy (keVee)</text>
<text x="428" y="250" font-size="10">7</text><text x="428" y="278" font-size="10">6</text><text x="428" y="306" font-size="10">5</text><text x="428" y="334" font-size="10">4</text><text x="428" y="363" font-size="10">3</text><text x="428" y="391" font-size="10">2</text><text x="428" y="420" font-size="10">1</text><text x="428" y="457" font-size="10">0</text>
<text x="284" y="496" font-size="13" text-anchor="middle">(b)</text></g>
<rect x="148" y="505" width="278" height="199" fill="none" stroke="#111" stroke-width="1.2"/>
<polyline transform="translate(0,-9)" fill="none" stroke="#77f" stroke-width="1" stroke-dasharray="2,2" points="172.8,707 181,703 193.3,703 205.5,690 213.7,625 219.4,620 223.5,640 228.4,645 234.1,618 239.8,600 246.4,560 252.1,526 256.2,536 259.4,575 262.7,600 266.8,598 270.9,625 279,618 283.1,612 288.8,610 295.4,620 303.5,635 311.7,650 319.9,665 326.4,660 332.1,640 337.8,652 344.4,675 352.5,690 364.8,695 377,680 385.2,658 393.3,668 401.5,690 409.7,700 426,710"/>
<polyline fill="none" stroke="#e00" stroke-width="1.6" points="148.3,702.7 172.8,698.7 181,696 193.3,698.7 205.5,684 213.7,618 219.4,614.5 223.5,657.6 228.4,664 234.1,624.4 239.8,604.6 246.4,564.8 252.1,530.3 256.2,538 259.4,584.7 262.7,611 266.8,604.6 270.9,644.3 279,631 283.1,624.4 288.8,617.8 295.4,627.8 303.5,644.3 311.7,657.6 319.9,677.5 326.4,670.9 332.1,647.6 337.8,664.2 344.4,687.4 352.5,697.4 364.8,700.7 377,684 385.2,661 393.3,674 401.5,697.4 409.7,702 426,704"/>
<g font-size="12" fill="#111"><text x="128" y="509">300</text><text x="128" y="542">250</text><text x="128" y="575">200</text><text x="128" y="608">150</text><text x="128" y="641">100</text><text x="134" y="674">50</text><text x="140" y="708">0</text>
<text x="168" y="719">2000</text><text x="209" y="719">2500</text><text x="250" y="719">3000</text><text x="291" y="719">3500</text><text x="332" y="719">4000</text><text x="373" y="719">4500</text><text x="414" y="719">5000</text>
<text x="249" y="731">Energy (keVee)</text><text transform="translate(127,605) rotate(-90)" text-anchor="middle">counts</text>
<g font-size="9.5"><text x="213" y="331">²¹⁰Po</text><text x="213" y="341">²²⁸Th</text><text x="215" y="351">²²²Rn</text><text x="184" y="373">²³⁰Th</text><text x="184" y="383">²³⁴U</text><text x="184" y="393">²²⁶Ra</text><text x="265" y="382">²²⁴Ra</text><text x="292" y="378">²¹²Bi</text><text x="292" y="388">²¹⁸Po</text><text x="309" y="408">²²⁰Rn</text><text x="330" y="424">²¹⁶Po</text><text x="377" y="434">²¹⁶Po</text><text x="165" y="603">²³²Th</text><text x="165" y="613">²³⁸U</text></g>
<text x="318" y="334" font-size="10" fill="#55f">Without Z selection × ⅓</text><text x="318" y="348" font-size="10" fill="#e00">With Z selection</text></g>
<path d="M297 331h18" stroke="#77f" stroke-dasharray="2,2"/><path d="M297 345h18" stroke="#e00" stroke-width="1.6"/>
<path d="M200 403l16 11M232 355l10 8M263 388l-5 18M289 394l-5 10M310 414l-6 10M336 428l-3 12M386 440v14M177 616v10" stroke="#111" fill="none"/>
<!-- table rules -->
<g stroke="#111"><path d="M488 707H812" stroke-width="1.4"/><path d="M488 729H812M488 747H812M488 799H812M488 852H812M488 904H812M488 957H812M488 1009H812" stroke-width=".8"/><path d="M488 1081H812" stroke-width="1.4"/></g>
</svg>
<div class="t" style="left:107px;width:330px;top:150px;height:56px">the middle section of the crystal are retained. The α spectra of crystal 1<sup>#</sup> with and without Z selection are displayed in Fig. 6 (b).</div>
<div class="cap" style="left:98px;width:313px;top:739px">Fig. 6.&nbsp;&nbsp;&nbsp; (a) Scatter plots of the z distribution versus energy from α events of crystal 3<sup>#</sup>. The events in the black shade are rejected. (b) The α spectrum of crystal 1<sup>#</sup> with Z selection is depicted as well as the explanations of the compositions of the α peaks. In addition, the α spectrum after scaled without Z selection is also shown to compare.</div>
<div class="c" style="left:88px;top:893px">3.</div>
<div class="t" style="left:107px;width:330px;top:893px;height:128px">The half life selection (Δ<i>t</i>): For each α event, the time correlations between this α event and the previous (later) α (β/γ) event were recorded. The time difference between the selected decay sequence were required to be less than 5 times the nominal half lives and be at least more than one time window width.</div>
<div class="c" style="left:88px;top:1037px">4.</div>
<div class="t" style="left:107px;width:330px;top:1037px;height:110px">The energy selection (<i>E</i>): For the α event in the related cascade, the energy selection was within ±3σ region of the Gaussian mean value of the measured energy. While that of the β events (<sup>214</sup>Bi→<sup>214</sup>Po) was above 100 keVee due to the the energy threshold of approximately 100 keV.</div>
<div class="c" style="left:485px;top:150px">5.</div>
<div class="t" style="left:504px;width:333px;top:150px;height:238px">The Δz selection (Δz): The Δz distribution of correlated β − α and α − α cascades are depicted in Fig. 7. The α − α correlated cascade provide a more accurate description (σ<sub>Δz</sub> = 1.86 cm) in the spatial resolution, since both of the α pairs are deposited energy at the almost same site. While the β–α correlated cascade has a worse accurate spatial resolution (σ<sub>Δz</sub> = 3.30 cm), because the accompanying γ rays may not deposit energy at the original site of the β decay. Nevertheless, the events within the ±3σ region of the Gaussian distribution of the z difference between the correlated cascade decay were selected.</div>
<div class="t i" style="left:466px;width:371px;top:429px;height:110px">The final numbers of α − α and β − α decays are obtained by counting the numbers of events after applying all selections above. Besides, the accidental events, which are due to uncorrelated event-pairs which survive the various selections and fall into time windows corresponding to five half-lives, are statistically subtracted.</div>
<div class="cap" style="left:495px;width:314px;top:585px;line-height:16.8px">Table 1.&nbsp;&nbsp;&nbsp; Summary of the event selection procedures of crystal 1<sup>#</sup> at two decay sequences from <sup>232</sup>Th and <sup>238</sup>U respectively. Listed are the individual and cumulative background survival fraction [λ(%) and Πλ(%), respectively] and the candidate signal efficiency [ϵ(%)].</div>
<div style="position:absolute;left:488px;top:708px;width:324px;font-size:13px;line-height:17.4px">
<div style="display:flex;text-align:center"><span style="width:115px">Decay sequence</span><span style="width:105px"><sup>214</sup>Bi→<sup>214</sup>Po</span><span style="width:104px"><sup>220</sup>Rn→<sup>216</sup>Po</span></div>
<div style="text-align:center;padding-left:80px;margin-top:1px">Raw counts&nbsp;&nbsp;&nbsp;&nbsp;&nbsp;&nbsp;&nbsp;&nbsp;&nbsp;&nbsp;&nbsp;&nbsp;&nbsp;&nbsp;&nbsp;&nbsp;&nbsp;&nbsp; 7212712</div>
<div style="text-align:center">PSD selection<sup>†</sup></div>
<div style="display:flex;text-align:center"><span style="width:115px">λ[Πλ](%)</span><span style="width:209px">0.60[0.60]</span></div>
<div style="display:flex;text-align:center"><span style="width:115px">ϵ(%)</span><span style="width:209px">100</span></div>
<div style="text-align:center">Z selection</div>
<div style="display:flex;text-align:center"><span style="width:115px">λ[Πλ](%)</span><span style="width:209px">25.9[0.16]</span></div>
<div style="display:flex;text-align:center"><span style="width:115px">ϵ(%)</span><span style="width:209px">42.9</span></div>
<div style="text-align:center">Δt selection</div>
<div style="display:flex;text-align:center"><span style="width:115px">λ[Πλ](%)</span><span style="width:105px">8.2[0.01]</span><span style="width:104px">8.6[0.01]</span></div>
<div style="display:flex;text-align:center"><span style="width:115px">ϵ(%)</span><span style="width:105px">77.8</span><span style="width:104px">96.9</span></div>
<div style="text-align:center">E selection</div>
<div style="display:flex;text-align:center"><span style="width:115px">λ[Πλ](%)</span><span style="width:105px">79.2[0.01]</span><span style="width:104px">90.4[0.01]</span></div>
<div style="display:flex;text-align:center"><span style="width:115px">ϵ(%)</span><span style="width:105px">96.2</span><span style="width:104px">99.4</span></div>
<div style="text-align:center">Δz selection</div>
<div style="display:flex;text-align:center"><span style="width:115px">λ[Πλ](%)</span><span style="width:105px">96.3[0.01]</span><span style="width:104px">99.8[0.01]</span></div>
<div style="display:flex;text-align:center"><span style="width:115px">ϵ(%)</span><span style="width:105px">99.7</span><span style="width:104px">99.7</span></div>
<div style="display:flex;text-align:center"><span style="width:115px">Coincidence counts</span><span style="width:105px">0.06</span><span style="width:104px">0.14</span></div>
<div style="display:flex;text-align:center"><span style="width:115px">Final counts</span><span style="width:105px">705</span><span style="width:104px">872</span></div>
<div style="display:flex;text-align:center"><span style="width:115px">Measured activity<br>(mBq kg<sup>−1</sup>)</span><span style="width:105px;padding-top:9px">0.071±0.003</span><span style="width:104px;padding-top:9px">0.068±0.002</span></div>
</div>
<div class="c" style="left:498px;top:1082px;font-size:13px"><sup>†</sup> Select α events above 300 eVee.</div>
<div class="pn">010201-5</div>
</div>
</body></html>
